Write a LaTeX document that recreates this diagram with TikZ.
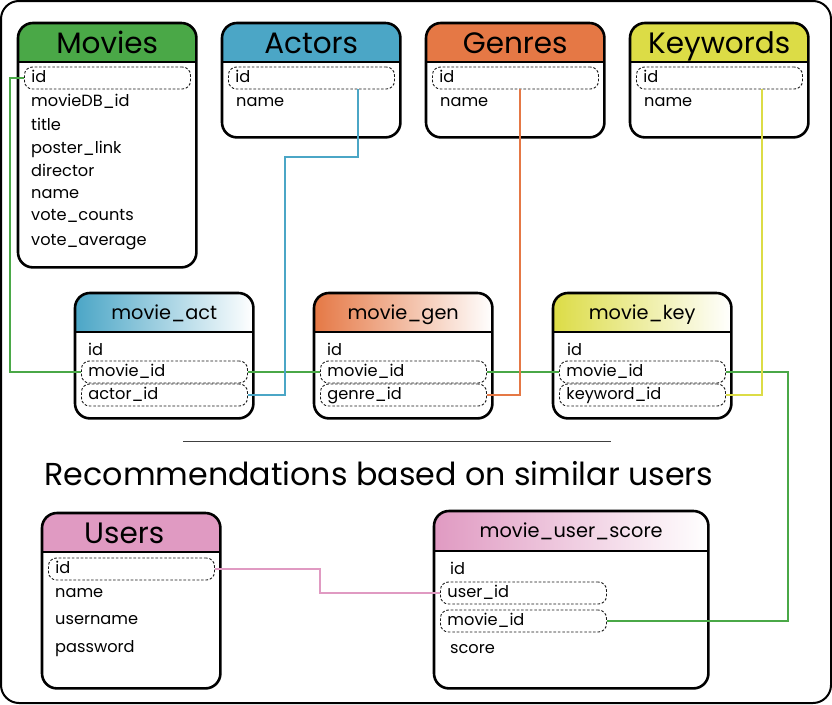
\documentclass[tikz,border=0pt]{standalone}
\usepackage{fontspec}
\setmainfont{Poppins}
\usetikzlibrary{calc}
\definecolor{cgreen}{HTML}{4AA847}
\definecolor{cblue}{HTML}{4BA6C6}
\definecolor{corange}{HTML}{E57845}
\definecolor{cyellow}{HTML}{DCDC46}
\definecolor{cpink}{HTML}{E09AC2}
\tikzset{
 tablebg/.style={anchor=north west, inner sep=0pt, fill=white},
 border/.style={line width=2.6pt, rounded corners=15pt},
 hline/.style={line width=1.2pt},
 bigtitle/.style={font=\fontsize{29.5}{29.5}\selectfont, inner sep=0pt, text height=21pt, text depth=0pt},
 smalltitle/.style={font=\fontsize{19.3}{19.3}\selectfont, inner sep=0pt, text height=13.5pt, text depth=0pt},
 rowtext/.style={anchor=west, inner sep=0pt, text height=11.5pt, text depth=3pt, font=\fontsize{16.2}{16.2}\selectfont},
 keyrow/.style={anchor=west, draw=black!90, dash pattern=on 2.6pt off 1.8pt, line width=0.9pt, rounded corners=8pt, text width=152pt, inner xsep=7pt, inner ysep=0pt, minimum height=22pt, text height=11.5pt, text depth=3pt, align=left, font=\fontsize{16.2}{16.2}\selectfont},
 link/.style={line width=2pt},
 heading/.style={inner sep=0pt, font=\fontsize{31.7}{31.7}\selectfont},
 frame/.style={line width=2pt, rounded corners=18pt},
}
\newcommand\mktable[9]{%
 \node[tablebg, minimum width=#4pt, minimum height=#5pt] (#1) at (#2,#3) {};
 \begin{scope}
  \clip[rounded corners=15pt] (#1.north west) rectangle (#1.south east);
  \path[#7] (#1.north west) rectangle ([yshift=-#6pt]#1.north east);
 \end{scope}
 \draw[hline] ([yshift=-#6pt]#1.north west) -- ([yshift=-#6pt]#1.north east);
 \draw[border] (#1.north west) rectangle (#1.south east);
 \node[#9] (#1-t) at ([yshift=-#6pt/2]#1.north) {#8};
}
\begin{document}
\begin{tikzpicture}[x=1pt,y=-1pt]
\useasboundingbox (0,0) rectangle (832,704);
\draw[frame] (1,1) rectangle (831,703);

\mktable{mov}{18}{23}{178}{244}{39}{fill=cgreen}{Movies}{bigtitle}
\mktable{act}{222}{23}{178}{114}{39}{fill=cblue}{Actors}{bigtitle}
\mktable{gen}{426}{23}{178}{114}{39}{fill=corange}{Genres}{bigtitle}
\mktable{kw}{630}{23}{178}{114}{39}{fill=cyellow}{Keywords}{bigtitle}
\mktable{ma}{75}{293}{178}{125}{39}{left color=cblue,right color=white}{movie\_act}{smalltitle}
\mktable{mg}{314}{293}{178}{125}{39}{left color=corange,right color=white}{movie\_gen}{smalltitle}
\mktable{mk}{553}{293}{178}{125}{39}{left color=cyellow,right color=white}{movie\_key}{smalltitle}
\mktable{usr}{42}{513}{178}{175}{39}{fill=cpink}{Users}{bigtitle, xshift=-7pt}
\mktable{mus}{434}{511}{274}{177}{40}{left color=cpink,right color=white}{movie\_user\_score}{smalltitle}

% Movies
\node[keyrow] (mov-id) at (24,78) {id};
\node[rowtext] (mov-r2) at (31,102) {movieDB\_id};
\node[rowtext] (mov-r3) at (31,126) {title};
\node[rowtext] (mov-r4) at (31,149) {poster\_link};
\node[rowtext] (mov-r5) at (31,172) {director};
\node[rowtext] (mov-r6) at (31,194) {name};
\node[rowtext] (mov-r7) at (31,216) {vote\_counts};
\node[rowtext] (mov-r8) at (31,241) {vote\_average};
% Actors, Genres, Keywords
\node[keyrow] (act-id) at (228,78) {id};
\node[rowtext] (act-r2) at (236,102) {name};
\node[keyrow] (gen-id) at (432,78) {id};
\node[rowtext] (gen-r2) at (440,102) {name};
\node[keyrow] (kw-id) at (636,78) {id};
\node[rowtext] (kw-r2) at (644,102) {name};
% link tables
\node[rowtext] (ma-r1) at (88,351) {id};
\node[keyrow] (ma-mid) at (81,372) {movie\_id};
\node[keyrow] (ma-aid) at (81,395) {actor\_id};
\node[rowtext] (mg-r1) at (327,351) {id};
\node[keyrow] (mg-mid) at (320,372) {movie\_id};
\node[keyrow] (mg-gid) at (320,395) {genre\_id};
\node[rowtext] (mk-r1) at (567,351) {id};
\node[keyrow] (mk-mid) at (559,372) {movie\_id};
\node[keyrow] (mk-kid) at (559,395) {keyword\_id};
% Users
\node[keyrow] (usr-id) at (48,569) {id};
\node[rowtext] (usr-r2) at (55,593) {name};
\node[rowtext] (usr-r3) at (55,620) {username};
\node[rowtext] (usr-r4) at (55,648) {password};
% movie_user_score
\node[rowtext] (mus-r1) at (450,570) {id};
\node[keyrow] (mus-uid) at (440,593) {user\_id};
\node[keyrow] (mus-mid) at (440,621) {movie\_id};
\node[rowtext] (mus-r4) at (450,649) {score};

% separator and heading
\draw[black!75, line width=1pt] (183,441) -- (611,441);
\node[heading] (rec) at (379,474) {Recommendations based on similar users};

% connectors
\draw[link, cgreen] (mov-id.west) -- ++(-14,0) |- (ma-mid.west);
\draw[link, cgreen] (ma-mid.east) -- (mg-mid.west);
\draw[link, cgreen] (mg-mid.east) -- (mk-mid.west);
\draw[link, cgreen] (mk-mid.east) -- ++(62,0) |- (mus-mid.east);
\coordinate (bluebend) at (285,157);
\draw[link, cblue] ([xshift=47pt]act-id.south) |- (bluebend) |- (ma-aid.east);
\draw[link, corange] ([xshift=5pt]gen-id.south) |- (mg-gid.east);
\draw[link, cyellow] ([xshift=43pt]kw-id.south) |- (mk-kid.east);
\draw[link, cpink] (usr-id.east) -- ++(105,0) |- (mus-uid.west);
\end{tikzpicture}
\end{document}
